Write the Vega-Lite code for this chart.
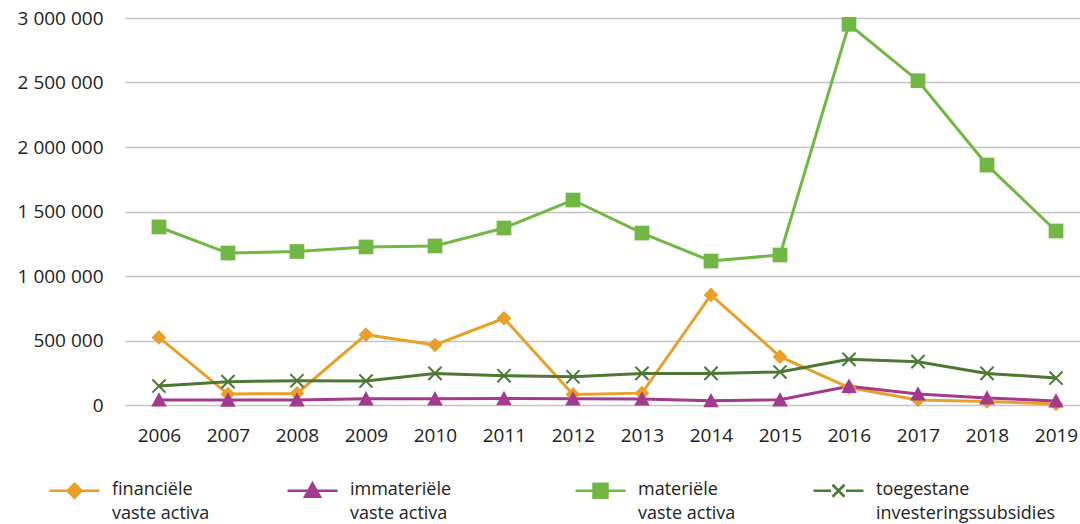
{
  "$schema": "https://vega.github.io/schema/vega-lite/v6.json",
  "autosize": "none",
  "width": 955,
  "height": 387,
  "padding": {"left": 125, "top": 18, "right": 0, "bottom": 119},
  "background": "white",
  "config": {
    "view": {"stroke": null},
    "font": "Open Sans",
    "axis": {"labelFont": "Open Sans", "labelFontSize": 19, "labelColor": "#222222", "ticks": false, "domain": false, "title": null}
  },
  "data": {
    "values": [
      {"year": "2006", "series": "financiële vaste activa", "value": 524000},
      {"year": "2007", "series": "financiële vaste activa", "value": 85000},
      {"year": "2008", "series": "financiële vaste activa", "value": 90000},
      {"year": "2009", "series": "financiële vaste activa", "value": 545000},
      {"year": "2010", "series": "financiële vaste activa", "value": 465000},
      {"year": "2011", "series": "financiële vaste activa", "value": 672000},
      {"year": "2012", "series": "financiële vaste activa", "value": 82000},
      {"year": "2013", "series": "financiële vaste activa", "value": 92000},
      {"year": "2014", "series": "financiële vaste activa", "value": 853000},
      {"year": "2015", "series": "financiële vaste activa", "value": 375000},
      {"year": "2016", "series": "financiële vaste activa", "value": 135000},
      {"year": "2017", "series": "financiële vaste activa", "value": 39000},
      {"year": "2018", "series": "financiële vaste activa", "value": 28000},
      {"year": "2019", "series": "financiële vaste activa", "value": 8000},
      {"year": "2006", "series": "immateriële vaste activa", "value": 39000},
      {"year": "2007", "series": "immateriële vaste activa", "value": 38000},
      {"year": "2008", "series": "immateriële vaste activa", "value": 39000},
      {"year": "2009", "series": "immateriële vaste activa", "value": 48000},
      {"year": "2010", "series": "immateriële vaste activa", "value": 48000},
      {"year": "2011", "series": "immateriële vaste activa", "value": 50000},
      {"year": "2012", "series": "immateriële vaste activa", "value": 48000},
      {"year": "2013", "series": "immateriële vaste activa", "value": 47000},
      {"year": "2014", "series": "immateriële vaste activa", "value": 33000},
      {"year": "2015", "series": "immateriële vaste activa", "value": 40000},
      {"year": "2016", "series": "immateriële vaste activa", "value": 145000},
      {"year": "2017", "series": "immateriële vaste activa", "value": 85000},
      {"year": "2018", "series": "immateriële vaste activa", "value": 54000},
      {"year": "2019", "series": "immateriële vaste activa", "value": 31000},
      {"year": "2006", "series": "materiële vaste activa", "value": 1380000},
      {"year": "2007", "series": "materiële vaste activa", "value": 1178000},
      {"year": "2008", "series": "materiële vaste activa", "value": 1190000},
      {"year": "2009", "series": "materiële vaste activa", "value": 1225000},
      {"year": "2010", "series": "materiële vaste activa", "value": 1233000},
      {"year": "2011", "series": "materiële vaste activa", "value": 1372000},
      {"year": "2012", "series": "materiële vaste activa", "value": 1589000},
      {"year": "2013", "series": "materiële vaste activa", "value": 1333000},
      {"year": "2014", "series": "materiële vaste activa", "value": 1116000},
      {"year": "2015", "series": "materiële vaste activa", "value": 1163000},
      {"year": "2016", "series": "materiële vaste activa", "value": 2951000},
      {"year": "2017", "series": "materiële vaste activa", "value": 2514000},
      {"year": "2018", "series": "materiële vaste activa", "value": 1860000},
      {"year": "2019", "series": "materiële vaste activa", "value": 1349000},
      {"year": "2006", "series": "toegestane investeringssubsidies", "value": 147000},
      {"year": "2007", "series": "toegestane investeringssubsidies", "value": 181000},
      {"year": "2008", "series": "toegestane investeringssubsidies", "value": 188000},
      {"year": "2009", "series": "toegestane investeringssubsidies", "value": 186000},
      {"year": "2010", "series": "toegestane investeringssubsidies", "value": 245000},
      {"year": "2011", "series": "toegestane investeringssubsidies", "value": 227000},
      {"year": "2012", "series": "toegestane investeringssubsidies", "value": 219000},
      {"year": "2013", "series": "toegestane investeringssubsidies", "value": 245000},
      {"year": "2014", "series": "toegestane investeringssubsidies", "value": 245000},
      {"year": "2015", "series": "toegestane investeringssubsidies", "value": 256000},
      {"year": "2016", "series": "toegestane investeringssubsidies", "value": 354000},
      {"year": "2017", "series": "toegestane investeringssubsidies", "value": 336000},
      {"year": "2018", "series": "toegestane investeringssubsidies", "value": 245000},
      {"year": "2019", "series": "toegestane investeringssubsidies", "value": 209000}
    ]
  },
  "encoding": {
    "x": {
      "field": "year", "type": "ordinal",
      "scale": {"type": "point", "padding": 0.42, "align": 0.586},
      "axis": {"labelAngle": 0, "labelPadding": 21, "grid": false}
    },
    "y": {
      "field": "value", "type": "quantitative",
      "scale": {"domain": [0, 3000000], "nice": false},
      "axis": {
        "values": [0, 500000, 1000000, 1500000, 2000000, 2500000, 3000000],
        "labelExpr": "replace(format(datum.value, ','), regexp(',', 'g'), ' ')",
        "labelPadding": 22,
        "grid": true, "gridColor": "#c4c4c4", "gridWidth": 1.5
      }
    },
    "color": {
      "field": "series", "type": "nominal",
      "scale": {
        "domain": ["financiële vaste activa", "immateriële vaste activa", "materiële vaste activa", "toegestane investeringssubsidies"],
        "range": ["#E9A02A", "#A23A8E", "#72B743", "#4C7834"]
      }
    }
  },
  "layer": [
    {
      "mark": {"type": "line", "strokeWidth": 3},
      "encoding": {
        "color": {
          "field": "series", "type": "nominal",
          "legend": {
            "orient": "none",
            "legendX": -77,
            "legendY": 446,
            "direction": "horizontal",
            "columns": 4,
            "title": null,
            "symbolSize": 2500,
            "symbolStrokeWidth": 2.5,
            "labelOffset": 11,
            "columnPadding": 72,
            "labelFont": "Open Sans",
            "labelFontSize": 18,
            "labelColor": "#222222",
            "labelBaseline": "top",
            "labelLimit": 400,
            "labelExpr": "datum.label == 'immateriële vaste activa' ? ['immateriële\u00a0\u00a0\u00a0\u00a0\u00a0\u00a0\u00a0\u00a0\u00a0\u00a0\u200b', 'vaste activa'] : split(replace(datum.label, ' ', '|'), '|')",
            "encode": {
              "labels": {"update": {"lineHeight": {"value": 24}, "dy": {"value": -10}}},
              "symbols": {
                "update": {
                  "shape": {"signal": "datum.value == 'financiële vaste activa' ? 'M-1,0H1M0,-0.28L0.28,0L0,0.28L-0.28,0Z' : datum.value == 'immateriële vaste activa' ? 'M-1,0H1M0,-0.3L0.3,0.24L-0.3,0.24Z' : datum.value == 'materiële vaste activa' ? 'M-1,0H1M-0.28,-0.28H0.28V0.28H-0.28Z' : 'M-1,0H-0.3M0.3,0H1M-0.24,-0.24L0.24,0.24M-0.24,0.24L0.24,-0.24'"},
                  "fill": {"scale": "color", "field": "value"},
                  "stroke": {"scale": "color", "field": "value"},
                  "strokeWidth": {"value": 2.5},
                  "opacity": {"value": 1}
                }
              }
            }
          }
        }
      }
    },
    {
      "transform": [{"filter": "datum.series != 'toegestane investeringssubsidies'"}],
      "mark": {"type": "point", "filled": true, "opacity": 1, "size": 240},
      "encoding": {
        "shape": {
          "field": "series", "type": "nominal", "legend": null,
          "scale": {
            "domain": ["financiële vaste activa", "immateriële vaste activa", "materiële vaste activa"],
            "range": ["M0,-0.95L0.95,0L0,0.95L-0.95,0Z", "M0,-1L1,0.85L-1,0.85Z", "M-0.95,-0.95H0.95V0.95H-0.95Z"]
          }
        }
      }
    },
    {
      "transform": [{"filter": "datum.series == 'toegestane investeringssubsidies'"}],
      "mark": {"type": "point", "filled": false, "opacity": 1, "size": 240, "strokeWidth": 2, "shape": "M-0.85,-0.85L0.85,0.85M-0.85,0.85L0.85,-0.85"}
    }
  ]
}
